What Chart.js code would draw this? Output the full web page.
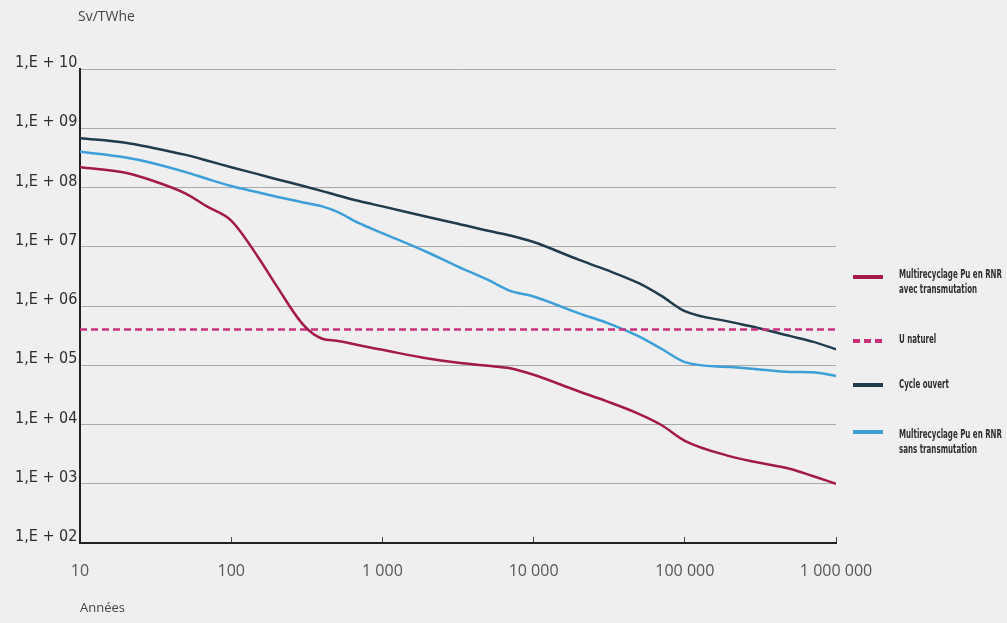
<!DOCTYPE html>
<html>
<head>
<meta charset="utf-8">
<script src="https://cdn.jsdelivr.net/npm/chart.js@4.4.1/dist/chart.umd.min.js"></script>
<style>
  html, body { margin: 0; padding: 0; background: #efefef; }
  #wrap { width: 1007px; height: 623px; }
</style>
</head>
<body>
<div id="wrap"><canvas id="c" width="1007" height="623"></canvas></div>
<script>
// ---- Data ----
const years = [10, 20, 30, 50, 70, 100, 150, 200, 300, 400, 500, 700, 1000, 2000, 3000, 5000, 7000, 10000, 20000, 30000, 50000, 70000, 100000, 200000, 300000, 500000, 700000, 1000000];

const avecTransmutation = [2.2e8, 1.77e8, 1.31e8, 7.9e7, 4.7e7, 2.76e7, 6.8e6, 2.16e6, 4.8e5, 2.8e5, 2.6e5, 2.17e5, 1.82e5, 1.3e5, 1.12e5, 9.8e4, 8.9e4, 6.9e4, 3.6e4, 2.5e4, 1.5e4, 9.8e3, 5.3e3, 2.9e3, 2.3e3, 1.77e3, 1.35e3, 1.0e3];

const cycleOuvert = [6.8e8, 5.7e8, 4.7e8, 3.55e8, 2.83e8, 2.2e8, 1.68e8, 1.38e8, 1.06e8, 8.7e7, 7.4e7, 5.9e7, 4.8e7, 3.18e7, 2.52e7, 1.86e7, 1.55e7, 1.2e7, 6.0e6, 4.1e6, 2.4e6, 1.48e6, 8.2e5, 5.4e5, 4.3e5, 3.1e5, 2.5e5, 1.86e5];

const sansTransmutation = [4.0e8, 3.2e8, 2.6e8, 1.82e8, 1.39e8, 1.06e8, 8.3e7, 7.0e7, 5.6e7, 4.8e7, 3.9e7, 2.5e7, 1.7e7, 8.0e6, 4.9e6, 2.75e6, 1.8e6, 1.45e6, 7.5e5, 5.3e5, 3.05e5, 1.9e5, 1.13e5, 9.3e4, 8.6e4, 7.7e4, 7.6e4, 6.6e4];

const uNaturelYears = [10, 1000000];
const uNaturel = [4.0e5, 4.0e5];

const seriesNames = [
  ["Multirecyclage Pu en RNR", "avec transmutation"],
  ["U naturel"],
  ["Cycle ouvert"],
  ["Multirecyclage Pu en RNR", "sans transmutation"]
];

const xTickValues = [10, 100, 1000, 10000, 100000, 1000000];
const xTickLabels = ["10", "100", "1 000", "10 000", "100 000", "1 000 000"];
const yTickValues = [1e2, 1e3, 1e4, 1e5, 1e6, 1e7, 1e8, 1e9, 1e10];
const yTickLabels = ["1,E + 02", "1,E + 03", "1,E + 04", "1,E + 05", "1,E + 06", "1,E + 07", "1,E + 08", "1,E + 09", "1,E + 10"];

const yAxisTitle = "Sv/TWhe";
const xAxisTitle = "Années";

// ---- Build datasets ----
const toPts = (xs, ys) => xs.map((x, i) => ({ x: x, y: ys[i] }));

const COLORS = {
  red: '#a3194b',
  pink: '#c8317c',
  dark: '#1f3b4c',
  blue: '#3c9fd8'
};

const datasets = [
  { label: seriesNames[0].join(' '), data: toPts(years, avecTransmutation), borderColor: COLORS.red, borderWidth: 2.5 },
  { label: seriesNames[1].join(' '), data: toPts(uNaturelYears, uNaturel), borderColor: COLORS.pink, borderWidth: 2.5, borderDash: [7, 4] },
  { label: seriesNames[2].join(' '), data: toPts(years, cycleOuvert), borderColor: COLORS.dark, borderWidth: 2.5 },
  { label: seriesNames[3].join(' '), data: toPts(years, sansTransmutation), borderColor: COLORS.blue, borderWidth: 2.5 }
].map(d => Object.assign({ pointRadius: 0, fill: false, cubicInterpolationMode: 'monotone', backgroundColor: d.borderColor }, d));

const CONDENSED = "'DejaVu Sans Condensed', 'DejaVu Sans', sans-serif";

// Background + free texts + custom legend
const decorPlugin = {
  id: 'decor',
  beforeDraw(chart) {
    const ctx = chart.ctx;
    ctx.save();
    ctx.fillStyle = '#efefef';
    ctx.fillRect(0, 0, chart.width, chart.height);
    ctx.restore();
  },
  afterDraw(chart) {
    const ctx = chart.ctx;
    ctx.save();
    // y axis unit text
    ctx.fillStyle = '#454545';
    ctx.font = "14px 'Open Sans', 'DejaVu Sans', sans-serif";
    ctx.textAlign = 'left';
    ctx.textBaseline = 'middle';
    ctx.fillText(yAxisTitle, 78, 17);

    // legend
    const rows = [
      { y: 277, textY: [275, 290] },
      { y: 341, textY: [340] },
      { y: 385, textY: [385] },
      { y: 432, textY: [435, 450] }
    ];
    ctx.font = "condensed 600 13px " + CONDENSED;
    const sx = Math.min(1, 103 / ctx.measureText(seriesNames[0][0]).width);
    chart.data.datasets.forEach((ds, i) => {
      const r = rows[i];
      ctx.save();
      ctx.strokeStyle = ds.borderColor;
      ctx.lineWidth = 4;
      ctx.lineCap = 'butt';
      if (ds.borderDash) ctx.setLineDash([7, 4]);
      ctx.beginPath();
      ctx.moveTo(853, r.y);
      ctx.lineTo(883, r.y);
      ctx.stroke();
      ctx.restore();
      ctx.fillStyle = '#2e2e2e';
      ctx.textBaseline = 'middle';
      ctx.textAlign = 'left';
      seriesNames[i].forEach((t, k) => {
        ctx.save();
        ctx.translate(899, r.textY[k]);
        ctx.scale(sx, 1);
        ctx.fillText(t, 0, 0);
        ctx.restore();
      });
    });
    ctx.restore();
  }
};

new Chart(document.getElementById('c'), {
  type: 'line',
  data: { datasets: datasets },
  options: {
    responsive: false,
    animation: false,
    events: [],
    layout: { padding: { left: 15, top: 69, right: 171, bottom: 0 } },
    plugins: {
      legend: { display: false },
      tooltip: { enabled: false },
      title: { display: false }
    },
    scales: {
      x: {
        type: 'logarithmic',
        min: 10,
        max: 1000000,
        afterBuildTicks: (s) => { s.ticks = xTickValues.map(v => ({ value: v })); },
        afterFit: (s) => { s.height = 80; },
        ticks: {
          autoSkip: false,
          maxRotation: 0,
          padding: 25,
          color: '#555',
          font: { family: "'Open Sans', 'DejaVu Sans', sans-serif", size: 16 },
          callback: (v) => { const i = xTickValues.indexOf(v); return i >= 0 ? xTickLabels[i] : ''; }
        },
        grid: {
          drawOnChartArea: false,
          drawTicks: true,
          tickLength: -6,
          tickColor: '#444',
          tickWidth: 1
        },
        border: { display: true, color: '#222', width: 2 },
        title: {
          display: true,
          text: xAxisTitle,
          align: 'start',
          color: '#454545',
          font: { family: "'Open Sans', 'DejaVu Sans', sans-serif", size: 13 },
          padding: { top: 0, bottom: 7 }
        }
      },
      y: {
        type: 'logarithmic',
        min: 1e2,
        max: 1e10,
        afterBuildTicks: (s) => { s.ticks = yTickValues.map(v => ({ value: v })); },
        afterFit: (s) => { s.width = 65; },
        ticks: {
          crossAlign: 'far',
          labelOffset: -6,
          color: '#2e2e2e',
          font: { family: CONDENSED, size: 16, weight: 'condensed' },
          callback: (v) => { const i = yTickValues.indexOf(v); return i >= 0 ? yTickLabels[i] : ''; }
        },
        grid: {
          drawTicks: false,
          color: '#a9a9a9',
          lineWidth: 1
        },
        border: { display: true, color: '#222', width: 2 }
      }
    }
  },
  plugins: [decorPlugin]
});
</script>
</body>
</html>
